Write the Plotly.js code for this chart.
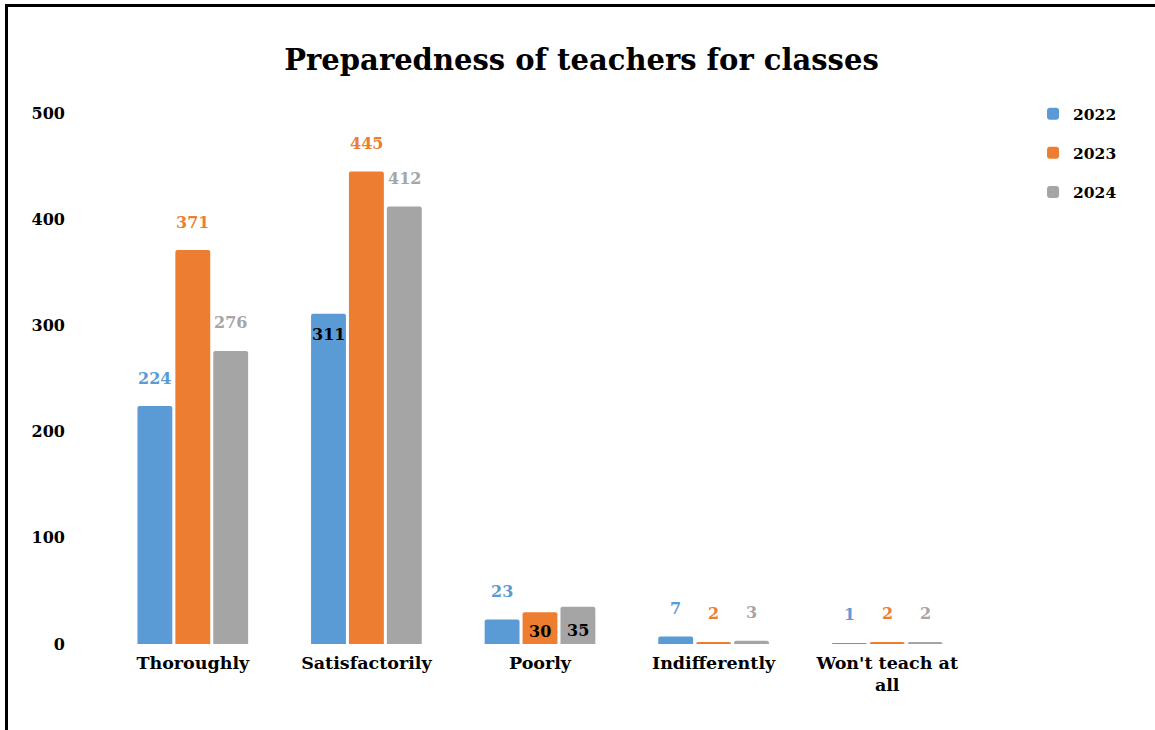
<!DOCTYPE html>
<html>
<head>
<meta charset="utf-8">
<script src="https://cdn.plot.ly/plotly-3.0.1.min.js"></script>
<style>
  html, body { margin: 0; padding: 0; background: #fff; overflow: hidden; }
  #frame { position: absolute; left: 5px; top: 4px; border-top: 3px solid #000; border-left: 3px solid #000; width: 1147px; height: 723px; }
  #chart { width: 1147px; height: 723px; }
</style>
</head>
<body>
<div id="frame"><div id="chart"></div></div>
<script>
const categories = ["Thoroughly", "Satisfactorily", "Poorly", "Indifferently", "Won't teach at all"];
const tickLabels = ["Thoroughly", "Satisfactorily", "Poorly", "Indifferently", "Won't teach at<br>all"];
const seriesNames = ["2022", "2023", "2024"];
const values2022 = [224, 311, 23, 7, 1];
const values2023 = [371, 445, 30, 2, 2];
const values2024 = [276, 412, 35, 3, 2];
const yTicks = [0, 100, 200, 300, 400, 500];

const colors = ["#5B9BD5", "#ED7D31", "#A5A5A5"];
const FONT = "DejaVu Serif, Liberation Serif, serif";
const allValues = [values2022, values2023, values2024];

const traces = allValues.map((vals, k) => ({
  type: "bar",
  name: seriesNames[k],
  x: categories,
  y: vals,
  legendgroup: "g" + k,
  marker: { color: colors[k], cornerradius: 2, line: { width: 0 } },
  hoverinfo: "x+y+name"
}));

// slot width in category units (bargap 0.345, 3 bars)
const slot = (1 - 0.345) / 3;
const annotations = [];
allValues.forEach((vals, k) => {
  vals.forEach((v, i) => {
    // Inside labels for 311 (2022 Satisfactorily), 30, 35 (Poorly)
    const inside = (k === 0 && i === 1) || (i === 2 && k > 0);
    annotations.push({
      x: i + (k - 1) * slot,
      y: v,
      xref: "x", yref: "y",
      text: String(v),
      showarrow: false,
      yanchor: "middle",
      yshift: inside ? (i === 2 ? (k === 1 ? -19 : -24) : -21) : 28,
      font: { family: FONT, size: 16, color: inside ? "#000" : colors[k], weight: "bold" }
    });
  });
});

const layout = {
  width: 1147, height: 723,
  margin: { l: 98, r: 181, t: 106, b: 86 },
  paper_bgcolor: "#fff", plot_bgcolor: "#fff",
  font: { family: FONT, color: "#000", weight: "bold" },
  title: {
    text: "Preparedness of teachers for classes",
    font: { family: FONT, size: 29, color: "#000", weight: "bold" },
    x: 0.5, xref: "container", xanchor: "center",
    y: 1 - 53 / 723, yref: "container", yanchor: "middle"
  },
  barmode: "group",
  bargap: 0.345,
  bargroupgap: 0.08,
  xaxis: {
    type: "category",
    categoryarray: categories,
    tickvals: categories,
    ticktext: tickLabels,
    showgrid: false, showline: false, zeroline: false,
    ticks: "",
    tickfont: { family: FONT, size: 17.5, color: "#000", weight: "bold" },
    ticklabelstandoff: 6
  },
  yaxis: {
    range: [0, 500],
    tickvals: yTicks,
    showgrid: false, showline: false, zeroline: false,
    ticks: "",
    tickfont: { family: FONT, size: 16, color: "#000", weight: "bold" },
    ticklabelstandoff: 40
  },
  legend: {
    x: 1.068, xanchor: "left",
    y: 1.03, yanchor: "top",
    font: { family: FONT, size: 15.5, color: "#000", weight: "bold" },
    tracegroupgap: 16,
    itemwidth: 30,
    bgcolor: "rgba(0,0,0,0)"
  },
  annotations: annotations,
  showlegend: true
};

Plotly.newPlot("chart", traces, layout, { displayModeBar: false, staticPlot: true });
</script>
</body>
</html>
